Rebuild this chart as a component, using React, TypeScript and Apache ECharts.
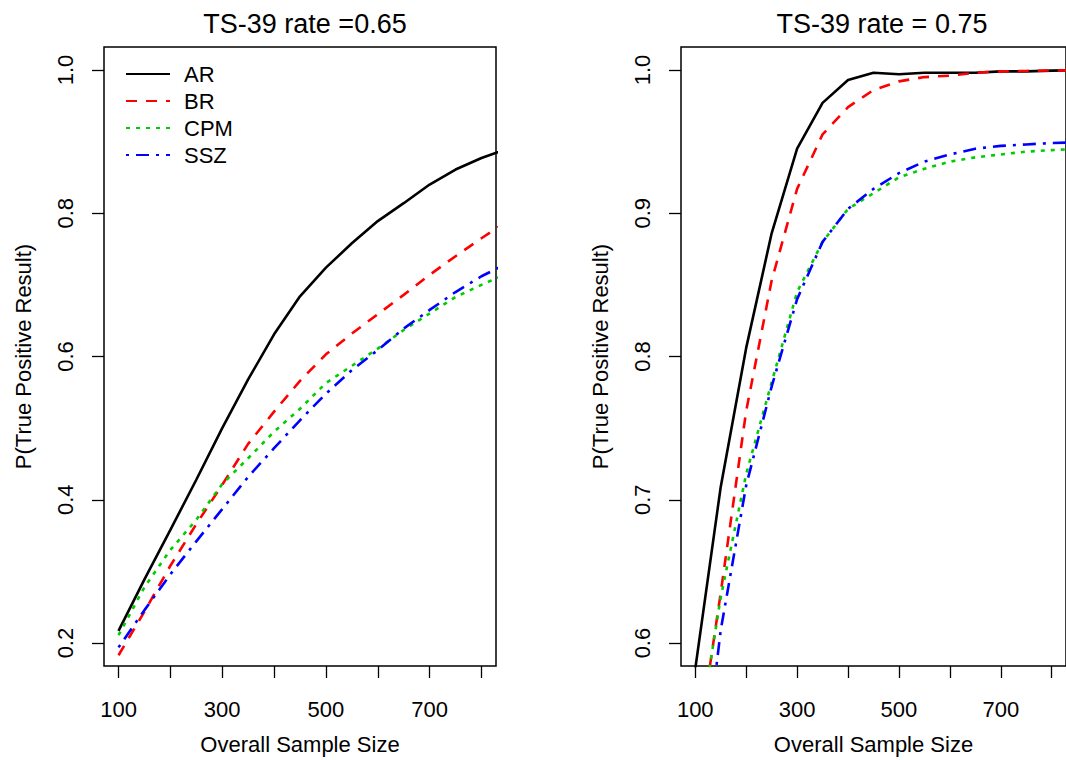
import React, { useEffect, useRef } from "react";
import * as echarts from "echarts";

const sampleSizes = [100, 150, 200, 250, 300, 350, 400, 450, 500, 550, 600, 650, 700, 750, 800, 850];
const methodNames = ["AR", "BR", "CPM", "SSZ"];

// Panel 1: TS-39 rate = 0.65
const arLow = [0.217, 0.289, 0.358, 0.428, 0.5, 0.568, 0.631, 0.684, 0.724, 0.758, 0.789, 0.814, 0.84, 0.861, 0.877, 0.89];
const brLow = [0.183, 0.244, 0.308, 0.366, 0.421, 0.478, 0.523, 0.566, 0.603, 0.632, 0.659, 0.686, 0.714, 0.74, 0.765, 0.789];
const cpmLow = [0.211, 0.278, 0.33, 0.372, 0.422, 0.458, 0.495, 0.527, 0.563, 0.587, 0.611, 0.637, 0.66, 0.683, 0.7, 0.716];
const sszLow = [0.194, 0.246, 0.296, 0.342, 0.387, 0.432, 0.472, 0.511, 0.548, 0.581, 0.609, 0.639, 0.665, 0.69, 0.712, 0.73];

// Panel 2: TS-39 rate = 0.75
const arHigh = [0.582, 0.709, 0.806, 0.886, 0.945, 0.977, 0.993, 0.998, 0.997, 0.998, 0.998, 0.998, 0.999, 0.999, 0.9995, 0.9998];
const brHigh = [0.515, 0.635, 0.762, 0.853, 0.917, 0.955, 0.974, 0.986, 0.992, 0.995, 0.996, 0.998, 0.999, 0.9993, 0.9996, 0.9998];
const cpmHigh = [0.52, 0.632, 0.718, 0.782, 0.845, 0.88, 0.903, 0.914, 0.925, 0.931, 0.936, 0.939, 0.941, 0.943, 0.944, 0.945];
const sszHigh = [0.46, 0.609, 0.71, 0.779, 0.84, 0.88, 0.903, 0.917, 0.928, 0.936, 0.941, 0.945, 0.947, 0.948, 0.949, 0.9495];

const xTicks = [100, 200, 300, 400, 500, 600, 700, 800];
const xLabels = [100, 300, 500, 700];
const yTicksLow = [0.2, 0.4, 0.6, 0.8, 1.0];
const yTicksHigh = [0.6, 0.7, 0.8, 0.9, 1.0];

const titles = ["TS-39 rate =0.65", "TS-39 rate = 0.75"];

const FONT = "'Liberation Sans', Arial, Helvetica, sans-serif";

const styles: any[] = [
  { color: "#000000", type: "solid" },
  { color: "#FF0000", type: [11, 9] },
  { color: "#00CD00", type: [4, 6] },
  { color: "#0000FF", type: [3, 7, 13, 7] },
];

function pairs(ys: number[]) {
  return sampleSizes.map((x, i) => [x, ys[i]]);
}

function makeX(grid: number) {
  return {
    type: "value",
    gridIndex: grid,
    min: 72,
    max: 828,
    axisLine: { show: false },
    axisTick: {
      show: true,
      inside: false,
      length: 12,
      customValues: xTicks,
      lineStyle: { color: "#000", width: 1.3 },
    },
    axisLabel: {
      customValues: xLabels,
      margin: 32,
      color: "#000",
      fontSize: 22,
      fontFamily: FONT,
    },
    splitLine: { show: false },
    name: "Overall Sample Size",
    nameLocation: "middle",
    nameGap: 67,
    nameTextStyle: { color: "#000", fontSize: 22, fontFamily: FONT },
  };
}

function makeY(grid: number, min: number, max: number, ticks: number[]) {
  return {
    type: "value",
    gridIndex: grid,
    min,
    max,
    axisLine: { show: false },
    axisTick: {
      show: true,
      inside: false,
      length: 12,
      customValues: ticks,
      lineStyle: { color: "#000", width: 1.3 },
    },
    axisLabel: {
      customValues: ticks,
      rotate: 90,
      margin: 28,
      color: "#000",
      fontSize: 22,
      fontFamily: FONT,
      formatter: (v: number) => v.toFixed(1),
    },
    splitLine: { show: false },
    name: "P(True Positive Result)",
    nameLocation: "middle",
    nameGap: 70,
    nameTextStyle: { color: "#000", fontSize: 22, fontFamily: FONT },
  };
}

export default function App() {
  const ref = useRef<HTMLDivElement>(null);
  useEffect(() => {
    const chart = echarts.init(ref.current!, null, { renderer: "svg" });
    const lowSets = [arLow, brLow, cpmLow, sszLow];
    const highSets = [arHigh, brHigh, cpmHigh, sszHigh];
    const series: any[] = [];
    [lowSets, highSets].forEach((sets, g) => {
      sets.forEach((ys, i) => {
        series.push({
          type: "line",
          name: methodNames[i],
          xAxisIndex: g,
          yAxisIndex: g,
          data: pairs(ys),
          symbol: "none",
          clip: true,
          lineStyle: { color: styles[i].color, type: styles[i].type, width: 2.6, cap: "butt" },
          itemStyle: { color: styles[i].color },
        });
      });
    });
    chart.setOption({
      animation: false,
      backgroundColor: "#fff",
      title: [
        { text: titles[0], left: 300, top: 5, textAlign: "center", textStyle: { fontSize: 27, fontWeight: "normal", color: "#000", fontFamily: FONT } },
        { text: titles[1], left: 877, top: 5, textAlign: "center", textStyle: { fontSize: 27, fontWeight: "normal", color: "#000", fontFamily: FONT } },
      ],
      legend: {
        data: methodNames,
        orient: "vertical",
        left: 120,
        top: 58,
        itemWidth: 44,
        itemHeight: 14,
        itemGap: 5,
        itemStyle: { opacity: 0, borderWidth: 0 },
        textStyle: { fontSize: 22, lineHeight: 22, color: "#000", fontFamily: FONT, padding: [0, 0, 0, 9] },
        selectedMode: false,
      },
      grid: [
        { left: 104, top: 47, width: 392, height: 621, show: true, borderColor: "#000", borderWidth: 1.5, backgroundColor: "transparent" },
        { left: 681, top: 47, width: 393, height: 621, show: true, borderColor: "#000", borderWidth: 1.5, backgroundColor: "transparent" },
      ],
      xAxis: [makeX(0), makeX(1)],
      yAxis: [makeY(0, 0.168, 1.032, yTicksLow), makeY(1, 0.584, 1.016, yTicksHigh)],
      series,
    });
    return () => chart.dispose();
  }, []);
  return (
    <div
      ref={ref}
      style={{ position: "absolute", left: 0, top: 0, width: 1066, height: 760, background: "#fff" }}
    />
  );
}
